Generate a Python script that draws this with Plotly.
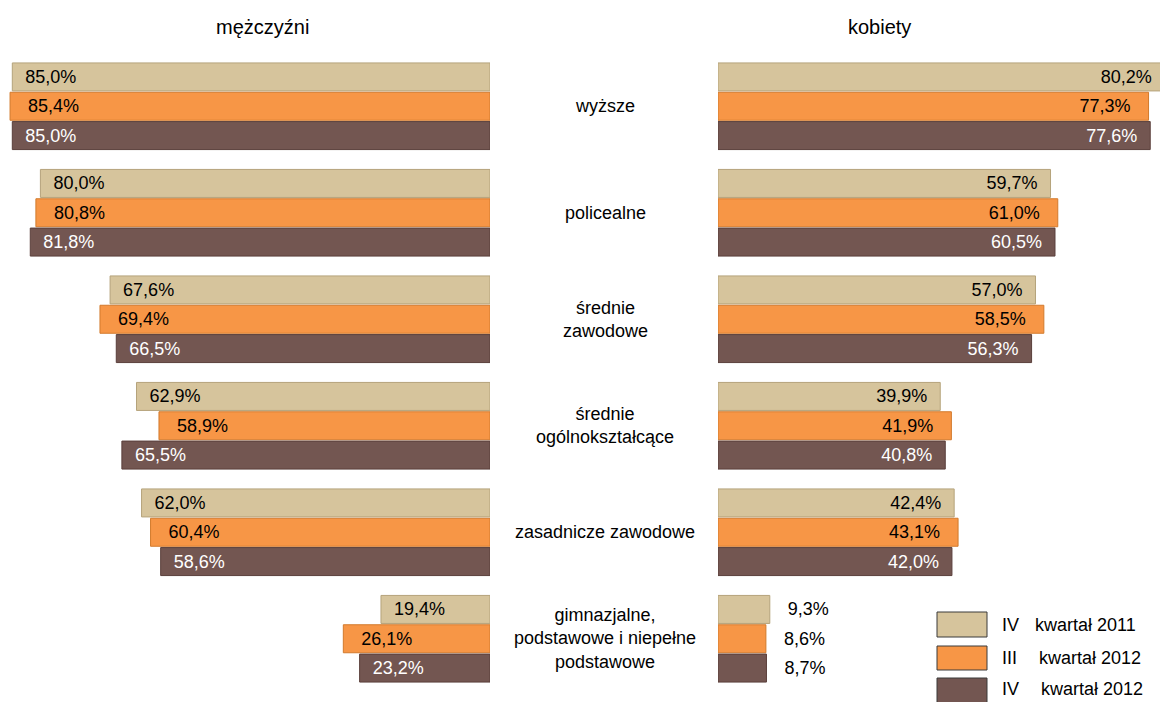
import plotly.graph_objects as go

# The page body has an 8px margin, so the figure is drawn 8px smaller and
# all reference pixel positions are shifted by that offset.
OFF = 8
W, H = 1168 - OFF, 702 - OFF

categories = [
    "wyższe",
    "policealne",
    "średnie\nzawodowe",
    "średnie\nogólnokształcące",
    "zasadnicze zawodowe",
    "gimnazjalne,\npodstawowe i niepełne\npodstawowe",
]
series_names = ["IV kwartał 2011", "III kwartał 2012", "IV kwartał 2012"]

men_2011_q4 = [85.0, 80.0, 67.6, 62.9, 62.0, 19.4]
men_2012_q3 = [85.4, 80.8, 69.4, 58.9, 60.4, 26.1]
men_2012_q4 = [85.0, 81.8, 66.5, 65.5, 58.6, 23.2]

women_2011_q4 = [80.2, 59.7, 57.0, 39.9, 42.4, 9.3]
women_2012_q3 = [77.3, 61.0, 58.5, 41.9, 43.1, 8.6]
women_2012_q4 = [77.6, 60.5, 56.3, 40.8, 42.0, 8.7]

colors = ["#D6C49C", "#F79646", "#735651"]
border_colors = ["#B5A37B", "#D27A2C", "#5A3F3B"]
label_colors = ["#000000", "#000000", "#FFFFFF"]

men = [men_2011_q4, men_2012_q3, men_2012_q4]
women = [women_2011_q4, women_2012_q3, women_2012_q4]

FONT = "Liberation Sans, Arial, sans-serif"
NB = "\u00a0"
SMALL = 15  # values below this are labelled outside the bar


def fmt(v):
    return f"{v:.1f}%".replace(".", ",")


def px_x(p):
    return (p - OFF) / W


def px_y(p):
    return 1 - (p - OFF) / H


cat_keys = [c.replace("\n", " ") for c in categories]

fig = go.Figure()

for i in range(3):
    pad = NB * (3 if i == 1 else 2)
    fig.add_trace(go.Bar(
        y=cat_keys, x=men[i], orientation="h", name=series_names[i],
        xaxis="x", yaxis="y",
        marker=dict(color=colors[i], line=dict(color=border_colors[i], width=1)),
        text=[pad + fmt(v) for v in men[i]],
        textposition="inside", insidetextanchor="end",
        textfont=dict(family=FONT, size=18, color=label_colors[i]),
        showlegend=False, hoverinfo="skip",
    ))

for i in range(3):
    pad = NB * (3 if i == 1 else 2)
    texts, positions, tcolors = [], [], []
    for v in women[i]:
        if v < SMALL:
            texts.append(NB * 3 + fmt(v))
            positions.append("outside")
            tcolors.append("#000000")
        else:
            texts.append(fmt(v) + pad)
            positions.append("inside")
            tcolors.append(label_colors[i])
    fig.add_trace(go.Bar(
        y=cat_keys, x=women[i], orientation="h", name=series_names[i],
        xaxis="x2", yaxis="y",
        marker=dict(color=colors[i], line=dict(color=border_colors[i], width=1)),
        text=texts, textposition=positions, insidetextanchor="end",
        textfont=dict(family=FONT, size=18, color=tcolors),
        cliponaxis=False,
        showlegend=False, hoverinfo="skip",
    ))

PX_MEN = 5.62    # pixels per percentage point
PX_WOMEN = 5.57
left_zero, right_zero = 490, 718

annotations = []
for key, cat in zip(cat_keys, categories):
    annotations.append(dict(
        x=px_x(605), xref="paper", y=key, yref="y",
        text=cat.replace("\n", "<br>"), showarrow=False,
        xanchor="center", yanchor="middle", align="center",
        font=dict(family=FONT, size=18, color="#000000"),
    ))
annotations.append(dict(x=px_x(262), y=px_y(27), xref="paper", yref="paper",
                        text="mężczyźni", showarrow=False,
                        xanchor="center", yanchor="middle",
                        font=dict(family=FONT, size=20, color="#000000")))
annotations.append(dict(x=px_x(880), y=px_y(27), xref="paper", yref="paper",
                        text="kobiety", showarrow=False,
                        xanchor="center", yanchor="middle",
                        font=dict(family=FONT, size=20, color="#000000")))

shapes = []
legend_rows = [(612, 637), (646, 670), (678, 704)]
legend_text_y = [625, 658, 689]
rest_x = [1033, 1037, 1039]
for i, name in enumerate(series_names):
    y0, y1 = legend_rows[i]
    shapes.append(dict(type="rect", xref="paper", yref="paper",
                       x0=px_x(937), x1=px_x(987), y0=px_y(y1), y1=px_y(y0),
                       fillcolor=colors[i], line=dict(color="#3A3A3A", width=1)))
    quarter, rest = name.split(" ", 1)
    yc = px_y(legend_text_y[i])
    annotations.append(dict(x=px_x(1000), y=yc, xref="paper", yref="paper",
                            text=quarter, showarrow=False, xanchor="left", yanchor="middle",
                            font=dict(family=FONT, size=18, color="#000000")))
    annotations.append(dict(x=px_x(rest_x[i]), y=yc, xref="paper", yref="paper",
                            text=rest, showarrow=False, xanchor="left", yanchor="middle",
                            font=dict(family=FONT, size=18, color="#000000")))

fig.update_layout(
    width=W, height=H,
    margin=dict(l=0, r=0, t=0, b=0),
    paper_bgcolor="white", plot_bgcolor="white",
    barmode="group", bargap=0.174, bargroupgap=0.045,
    font=dict(family=FONT, size=18, color="#000000"),
    xaxis=dict(domain=[0, px_x(left_zero)], range=[(left_zero - OFF) / PX_MEN, 0],
               visible=False, fixedrange=True),
    xaxis2=dict(domain=[px_x(right_zero), 1], range=[0, (1168 - right_zero) / PX_WOMEN],
                visible=False, fixedrange=True, anchor="y"),
    yaxis=dict(domain=[px_y(692), px_y(53)], autorange="reversed",
               visible=False, fixedrange=True, type="category"),
    annotations=annotations,
    shapes=shapes,
)

fig.write_html("out.html")
